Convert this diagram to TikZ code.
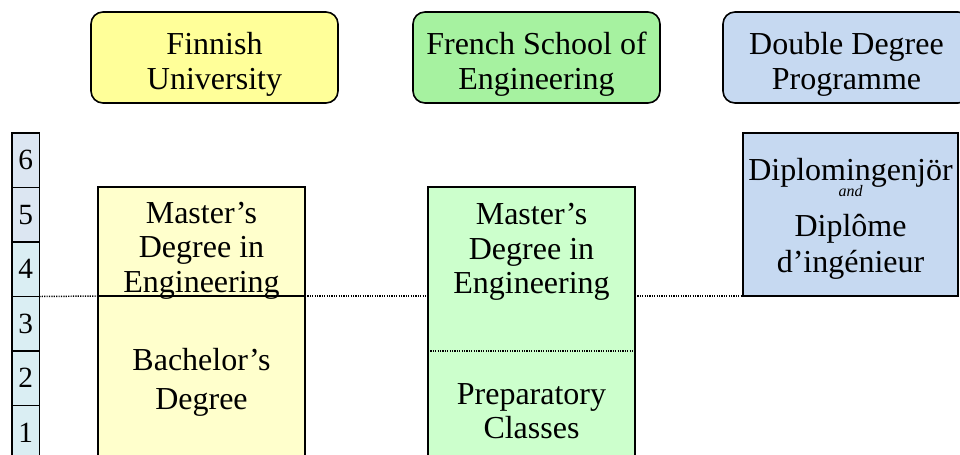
\documentclass[tikz,border=0pt]{standalone}
\usepackage{fontspec}
\setmainfont{Liberation Serif}
\usetikzlibrary{positioning, fit}

\definecolor{hdYellow}{HTML}{FFFF99}
\definecolor{bxYellow}{HTML}{FFFFCC}
\definecolor{hdGreen}{HTML}{A6F2A0}
\definecolor{bxGreen}{HTML}{CCFFCC}
\definecolor{ddBlue}{HTML}{C6D9F1}
\definecolor{yrTop}{HTML}{DCE6F2}
\definecolor{yrLow}{HTML}{DAEEF3}

\begin{document}
\begin{tikzpicture}[
        x=0.75pt, y=-0.75pt,
        % cabeceras
        header/.style={
                rectangle,
                rounded corners=9pt,
                draw=black,
                line width=1.2pt,
                minimum width=185.25pt,
                minimum height=68.25pt,
                inner sep=0pt,
                outer sep=0pt,
                anchor=north west
            },
        % cajas de estudios
        studybox/.style={
                rectangle,
                draw=black,
                line width=1.2pt,
                minimum width=155.25pt,
                inner sep=0pt,
                outer sep=0pt
            },
        % textos
        lbl/.style={
                align=center,
                inner sep=0pt,
                font=\fontsize{24}{26}\selectfont
            },
        % casillas de años
        yearcell/.style={
                rectangle,
                draw=black,
                line width=1.2pt,
                minimum width=20.5pt,
                minimum height=40.875pt,
                inner sep=0pt,
                outer sep=0pt,
                font=\fontsize{22}{24}\selectfont
            },
        % línea de nivel
        level/.style={
                line width=1.1pt,
                dash pattern=on 0.9pt off 0.9pt
            }
    ]

    \useasboundingbox (0,0) rectangle (960,454);
    \clip (0,0) rectangle (960,454);

    % Cabeceras
    \node[header, fill=hdYellow] (hdFinnish) at (91,12) {};
    \node[header, fill=hdGreen] (hdFrench) at (413,12) {};
    \node[header, fill=ddBlue] (hdDouble) at (723,12) {};
    \node[lbl, below=15pt of hdFinnish.north] (hdFinnishTxt) {Finnish\\University};
    \node[lbl, below=15pt of hdFrench.north] (hdFrenchTxt) {French School of\\Engineering};
    \node[lbl, below=15pt of hdDouble.north] (hdDoubleTxt) {Double Degree\\Programme};

    % Años
    \node[yearcell, fill=yrTop, anchor=north west] (y6) at (12,133) {6};
    \node[yearcell, fill=yrTop, below=0pt of y6] (y5) {5};
    \node[yearcell, fill=yrLow, below=0pt of y5] (y4) {4};
    \node[yearcell, fill=yrLow, below=0pt of y4] (y3) {3};
    \node[yearcell, fill=yrLow, below=0pt of y3] (y2) {2};
    \node[yearcell, fill=yrLow, below=0pt of y2] (y1) {1};

    % Universidad finlandesa
    \node[studybox, fill=bxYellow, minimum height=81.75pt, anchor=north west] (fiMaster) at (98,187) {};
    \node[studybox, fill=bxYellow, minimum height=130.5pt, below=0pt of fiMaster] (fiBach) {};
    \node[lbl, below=11pt of fiMaster.north] (fiMasterTxt) {Master’s\\Degree in\\Engineering};
    \node[lbl, below=39pt of fiBach.north] (fiBachTxt) {Bachelor’s\\[3pt]Degree};

    % Escuela francesa
    \node[studybox, draw=none, fill=bxGreen, minimum height=123pt, anchor=north west] (frMaster) at (428,187) {};
    \node[studybox, draw=none, fill=bxGreen, minimum height=89.25pt, below=0pt of frMaster] (frPrep) {};
    \node[studybox, fit=(frMaster)(frPrep)] (frFrame) {};
    \draw[level] (frMaster.south west) -- (frMaster.south east);
    \node[lbl, below=12pt of frMaster.north] (frMasterTxt) {Master’s\\Degree in\\Engineering};
    \node[lbl, below=24pt of frPrep.north] (frPrepTxt) {Preparatory\\Classes};

    % Doble titulación
    \node[studybox, fill=ddBlue, minimum width=161.25pt, minimum height=122.25pt, anchor=north west] (ddBox) at (743,133) {};
    \node[lbl, below=18.75pt of ddBox.north] (ddTxt) {Diplomingenjör\\[-14pt]{\fontsize{12}{12}\selectfont\itshape and}\\[4pt]Diplôme\\[1pt]d’ingénieur};

    % Nivel
    \draw[level] (y4.south east) -- (fiMaster.south west);
    \draw[level] (fiMaster.south east) -- (frFrame.west |- fiMaster.south);
    \draw[level] (frFrame.east |- fiMaster.south) -- (ddBox.south west);

\end{tikzpicture}
\end{document}
